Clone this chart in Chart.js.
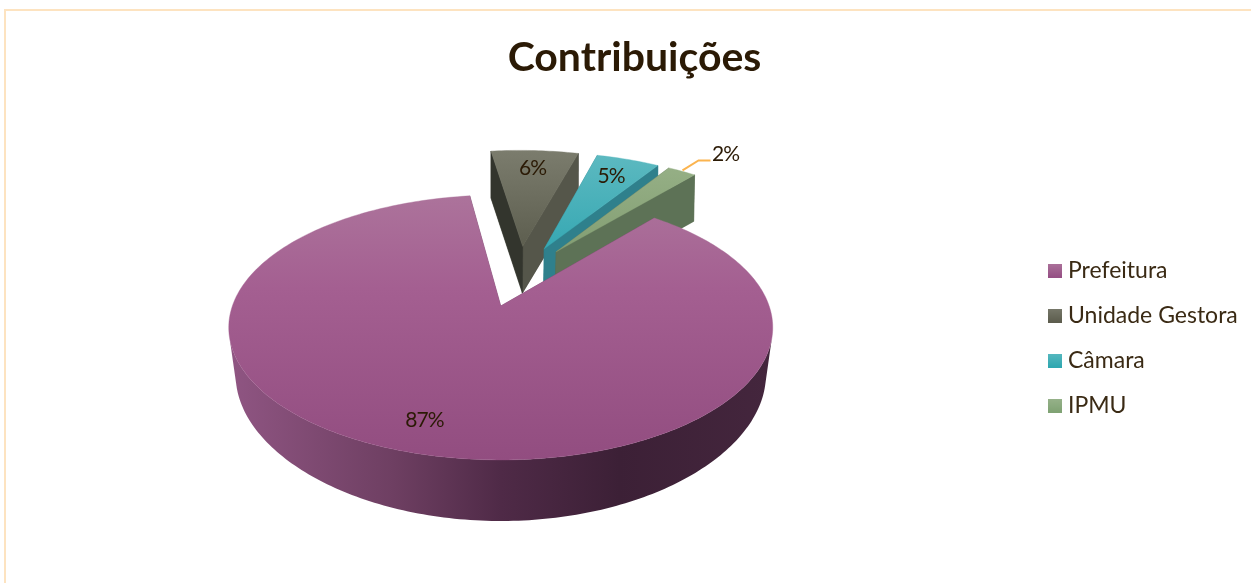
<!DOCTYPE html>
<html lang="pt">
<head>
<meta charset="utf-8">
<title>Contribuições</title>
<script src="https://cdn.jsdelivr.net/npm/chart.js@4"></script>
<style>
html,body{margin:0;padding:0;background:#fff;width:1251px;height:583px;overflow:hidden}
#frame{position:absolute;left:4px;top:9px;width:1300px;height:600px;border-top:2px solid #fde3c0;border-left:2px solid #fde3c0}
canvas{position:absolute;left:0;top:0}
</style>
</head>
<body>
<div id="frame"></div>
<canvas id="c" width="1251" height="583"></canvas>
<script>
const categories = ['Prefeitura', 'Unidade Gestora', 'Câmara', 'IPMU'];
const contributions = [86.75, 6.47, 4.67, 2.11];
const chartTitle = 'Contribuições';
const firstSliceAngle = 40;

const INK = '#2b1a05';
const TOP_FACE = [['#ac739b','#924d80'],['#7b7c6d','#5d5e4f'],['#5cb9c0','#36a8b3'],['#95af85','#839e73']];
const LEFT_WALL = ['#6b3d60','#33352d','#26808f','#566b4b'];
const RIGHT_WALL = ['#6b3d60','#55564a','#2f808c','#5d7256'];
const SWATCH = [['#ab719a','#954f84'],['#77786a','#5c5c4d'],['#56b8bf','#2ea7b0'],['#97b28a','#7fa273']];
const BASE = ['#9b5a8a','#66675a','#43aeb7','#8aa67a'];
const EXPLODE = 0.255;
const CENTER = [0.07, -0.245];

function topPoint(u, v){
  const w = 1 - 0.162 * v;
  return [501 + 268.4 * u / w, 306 + 129 * v / w];
}
function bottomPoint(u, v){
  const w = 1 - 0.162 * v, w2 = 1 - 0.19 * v;
  return [501 + (268.4 * u / w) * (0.977 - 0.015 * v), 354.6 + 134.8 * v / w2];
}
function poly(ctx, pts, fill){
  ctx.beginPath();
  pts.forEach((p, i) => i ? ctx.lineTo(p[0], p[1]) : ctx.moveTo(p[0], p[1]));
  ctx.closePath();
  ctx.fillStyle = fill;
  ctx.fill();
  ctx.strokeStyle = fill;
  ctx.lineWidth = 0.4;
  ctx.stroke();
}
function signedArea(q){
  let s = 0;
  q.forEach((p, i) => { const n = q[(i + 1) % q.length]; s += p[0] * n[1] - n[0] * p[1]; });
  return s / 2;
}
function sliceGeometry(el){
  const mid = (el.startAngle + el.endAngle) / 2;
  const ax = CENTER[0] + EXPLODE * Math.cos(mid);
  const ay = CENTER[1] + EXPLODE * Math.sin(mid);
  const n = Math.max(4, Math.ceil((el.endAngle - el.startAngle) * 180 / Math.PI));
  const rim = [];
  for (let i = 0; i <= n; i++){
    const a = el.startAngle + (el.endAngle - el.startAngle) * i / n;
    rim.push([ax + Math.cos(a), ay + Math.sin(a)]);
  }
  return {mid, ax, ay, rim};
}
function drawSlice(ctx, el, i){
  const g = sliceGeometry(el);
  const tA = topPoint(g.ax, g.ay), bA = bottomPoint(g.ax, g.ay);
  const rimT = g.rim.map(p => topPoint(p[0], p[1]));
  const rimB = g.rim.map(p => bottomPoint(p[0], p[1]));
  const tS = rimT[0], bS = rimB[0], tE = rimT[rimT.length-1], bE = rimB[rimB.length-1];
  let outer;
  if (i === 0){
    outer = ctx.createLinearGradient(232, 0, 770, 0);
    outer.addColorStop(0, '#8f5582');
    outer.addColorStop(0.3, '#6e3f62');
    outer.addColorStop(0.5, '#4f2a47');
    outer.addColorStop(0.72, '#3c2036');
    outer.addColorStop(1, '#44263d');
  } else {
    outer = RIGHT_WALL[i];
  }
  poly(ctx, [tA, tS, bS, bA], RIGHT_WALL[i]);
  poly(ctx, [tA, tE, bE, bA], LEFT_WALL[i]);
  ctx.beginPath();
  for (let k = 0; k < rimT.length - 1; k++){
    const q = [rimT[k], rimT[k+1], rimB[k+1], rimB[k]];
    if (signedArea(q) >= 0) continue;
    ctx.moveTo(q[0][0], q[0][1]);
    ctx.lineTo(q[1][0], q[1][1]);
    ctx.lineTo(q[2][0], q[2][1]);
    ctx.lineTo(q[3][0], q[3][1]);
    ctx.closePath();
  }
  ctx.fillStyle = outer;
  ctx.fill();
  if (i === 1){
    poly(ctx, [tA, tE, bE, bA], RIGHT_WALL[i]);
    poly(ctx, [tA, tS, bS, bA], LEFT_WALL[i]);
  } else if (i > 1){
    poly(ctx, [tA, tE, bE, bA], RIGHT_WALL[i]);
  }
  const ys = rimT.map(p => p[1]).concat(tA[1]);
  const grad = ctx.createLinearGradient(0, Math.min(...ys), 0, Math.max(...ys));
  grad.addColorStop(0, TOP_FACE[i][0]);
  if (i === 0) grad.addColorStop(0.35, '#a45f91');
  grad.addColorStop(1, TOP_FACE[i][1]);
  poly(ctx, [tA].concat(rimT), grad);
}
const pie3d = {
  id: 'pie3d',
  beforeDraw(chart){
    const L = chart.legend, T = chart.titleBlock;
    const pad = L.options.labels.padding;
    L.left = 1053.5 - pad;
    L.right = 1251;
    L.top = 259 - pad;
    L.bottom = 583;
    T.left = 18;
    T.right = 1251;
  },
  beforeDatasetDraw(chart, args){
    const ctx = chart.ctx, els = args.meta.data;
    const total = contributions.reduce((a, b) => a + b, 0);
    ctx.save();
    [1, 2, 3, 0].forEach(i => drawSlice(ctx, els[i], i));
    ctx.fillStyle = INK;
    ctx.font = '21px Lato';
    ctx.letterSpacing = '-1px';
    ctx.textAlign = 'center';
    ctx.textBaseline = 'middle';
    els.forEach((el, i) => {
      const g = sliceGeometry(el);
      const r = i === 3 ? 0.97 : 0.8;
      const da = i === 0 ? 2 * Math.PI / 180 : 0;
      const p = topPoint(g.ax + r * Math.cos(g.mid + da), g.ay + r * Math.sin(g.mid + da));
      const text = Math.round(contributions[i] / total * 100) + '%';
      if (i === 3){
        ctx.beginPath();
        ctx.moveTo(p[0] + 4, p[1] - 3);
        ctx.lineTo(p[0] + 20, p[1] - 13);
        ctx.lineTo(p[0] + 32, p[1] - 13);
        ctx.strokeStyle = '#fbb44f';
        ctx.lineWidth = 2;
        ctx.stroke();
        ctx.fillStyle = INK;
        ctx.fillText(text, p[0] + 47, p[1] - 19);
      } else {
        ctx.fillText(text, p[0] - (i === 2 ? 2 : 0), p[1] + (i === 0 ? 2 : 1));
      }
    });
    ctx.restore();
    return false;
  }
};
function swatch(c){
  const cv = document.createElement('canvas');
  cv.width = 14; cv.height = 14;
  const x = cv.getContext('2d');
  const g = x.createLinearGradient(0, 0, 0, 14);
  g.addColorStop(0, c[0]); g.addColorStop(1, c[1]);
  x.fillStyle = g; x.fillRect(0, 0, 14, 14);
  return cv;
}
const swatches = SWATCH.map(swatch);

new Chart(document.getElementById('c'), {
  type: 'pie',
  data: {
    labels: categories,
    datasets: [{ data: contributions, backgroundColor: BASE, borderWidth: 0 }]
  },
  plugins: [pie3d],
  options: {
    responsive: false,
    animation: false,
    rotation: firstSliceAngle,
    layout: { padding: { right: 220, top: 5 } },
    plugins: {
      tooltip: { enabled: false },
      title: {
        display: true,
        text: chartTitle,
        color: INK,
        font: { family: 'Lato', size: 41, weight: '700' },
        padding: { top: 28, bottom: 10 }
      },
      legend: {
        position: 'right',
        align: 'start',
        labels: {
          color: '#3a2a14',
          font: { family: 'Lato', size: 23 },
          usePointStyle: true,
          boxWidth: 3,
          padding: 22,
          generateLabels(chart){
            const items = Chart.overrides.pie.plugins.legend.labels.generateLabels(chart);
            items.forEach((it, i) => { it.pointStyle = swatches[i]; });
            return items;
          }
        }
      }
    }
  }
});
</script>
</body>
</html>
